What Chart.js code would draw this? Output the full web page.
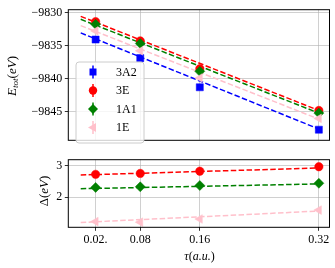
<!DOCTYPE html>
<html><head><meta charset="utf-8">
<script src="https://cdn.jsdelivr.net/npm/chart.js@4/dist/chart.umd.min.js"></script>
<style>
html,body{margin:0;padding:0;background:#fff;}
#wrap{position:relative;width:335px;height:268px;overflow:hidden;background:#fff;}
.box{position:absolute;left:0;width:335px;}
</style></head><body>
<div id="wrap">
<div class="box" style="top:0;height:150px"><canvas id="c1"></canvas></div>
<div class="box" style="top:150px;height:118px"><canvas id="c2"></canvas></div>
</div>
<script>
// ---- data ----
const tau = [0.02, 0.08, 0.16, 0.32];
const tauTickLabels = ['0.02.', '0.08', '0.16', '0.32'];
const stateLabels = ['3A2', '3E', '1A1', '1E'];
const E_3A2 = [-9834.1, -9836.9, -9841.3, -9847.7];
const E_3E  = [-9831.4, -9834.3, -9838.5, -9844.8];
const E_1A1 = [-9831.8, -9834.7, -9838.9, -9845.2];
const E_1E  = [-9832.8, -9835.8, -9839.9, -9846.0];
const fitTau = [0, 0.32];
const fitE_3A2 = [-9833.1, -9847.6];
const fitE_3E  = [-9830.6, -9844.8];
const fitE_1A1 = [-9831.05, -9845.2];
const fitE_1E  = [-9832.0, -9846.1];
const gap_3E  = [2.72, 2.75, 2.82, 2.96];
const gap_1A1 = [2.31, 2.33, 2.37, 2.44];
const gap_1E  = [1.24, 1.22, 1.32, 1.60];
const fitGap_3E  = [2.70, 2.92];
const fitGap_1A1 = [2.27, 2.42];
const fitGap_1E  = [1.21, 1.57];
const yTicksTop = [-9830, -9835, -9840, -9845];
const yTicksBottom = [2, 3];

// ---- style ----
const colors = {'3A2':'#0000ff','3E':'#ff0000','1A1':'#008000','1E':'#ffc0cb'};
const FONT = "'Liberation Serif', 'DejaVu Serif', serif";
const gridColor = 'rgba(176,176,176,0.75)';

function pts(xs, ys){ return xs.map((x,i)=>({x:x, y:ys[i]})); }
function lineDs(label, xs, ys){
  return {label:label+' fit', data:pts(xs,ys), showLine:true, pointRadius:0,
    borderColor:colors[label], borderWidth:1.5, borderDash:[5.5,2.4], fill:false, order:10};
}
const mk = {
  '3A2':{pointStyle:'rect', pointRadius:5, rot:0},
  '3E':{pointStyle:'circle', pointRadius:4.2, rot:0},
  '1A1':{pointStyle:'rectRot', pointRadius:5, rot:0},
  '1E':{pointStyle:'triangle', pointRadius:5, rot:-90}
};
function ptDs(label, xs, ys, order){
  return {label:label, data:pts(xs,ys), showLine:false,
    pointStyle:mk[label].pointStyle, pointRadius:mk[label].pointRadius, pointRotation:mk[label].rot,
    backgroundColor:colors[label], borderColor:colors[label], borderWidth:0.5, order:order};
}

function drawMarker(ctx, label, x, y){
  const c = colors[label];
  ctx.save();
  ctx.fillStyle = c; ctx.strokeStyle = c; ctx.lineWidth = 1.5;
  ctx.beginPath(); ctx.moveTo(x, y-6.5); ctx.lineTo(x, y+6.5); ctx.stroke();
  ctx.beginPath();
  if (label==='3A2'){ ctx.rect(x-3.5,y-3.5,7,7); }
  else if (label==='3E'){ ctx.arc(x,y,4.2,0,Math.PI*2); }
  else if (label==='1A1'){ ctx.moveTo(x,y-5); ctx.lineTo(x+5,y); ctx.lineTo(x,y+5); ctx.lineTo(x-5,y); ctx.closePath(); }
  else { ctx.moveTo(x-5,y); ctx.lineTo(x+3,y-4.5); ctx.lineTo(x+3,y+4.5); ctx.closePath(); }
  ctx.fill();
  ctx.restore();
}

// draws sequence of [text, style, sizeScale, yOffset]
function drawRich(ctx, parts, size){
  let w = 0;
  const m = parts.map(p=>{
    ctx.font = (p[1]||'') + ' ' + (size*(p[2]||1)) + 'px ' + FONT;
    const ww = ctx.measureText(p[0]).width; w += ww; return ww;
  });
  let x = -w/2;
  parts.forEach((p,i)=>{
    ctx.font = (p[1]||'') + ' ' + (size*(p[2]||1)) + 'px ' + FONT;
    ctx.fillText(p[0], x, (p[3]||0));
    x += m[i];
  });
}

const framePlugin = {
  id:'frame',
  afterDatasetsDraw(chart){
    const a = chart.chartArea, ctx = chart.ctx;
    ctx.save();
    ctx.strokeStyle = '#000'; ctx.lineWidth = 1;
    ctx.strokeRect(a.left, a.top, a.right-a.left, a.bottom-a.top);
    ctx.restore();
  }
};

const topDecor = {
  id:'topDecor',
  afterDraw(chart){
    const ctx = chart.ctx;
    // legend
    ctx.save();
    const bx=76, by=62, bw=68, bh=81, r=3;
    ctx.beginPath();
    ctx.moveTo(bx+r,by); ctx.lineTo(bx+bw-r,by); ctx.quadraticCurveTo(bx+bw,by,bx+bw,by+r);
    ctx.lineTo(bx+bw,by+bh-r); ctx.quadraticCurveTo(bx+bw,by+bh,bx+bw-r,by+bh);
    ctx.lineTo(bx+r,by+bh); ctx.quadraticCurveTo(bx,by+bh,bx,by+bh-r);
    ctx.lineTo(bx,by+r); ctx.quadraticCurveTo(bx,by,bx+r,by); ctx.closePath();
    ctx.fillStyle='rgba(255,255,255,0.8)'; ctx.fill();
    ctx.strokeStyle='#cccccc'; ctx.lineWidth=1; ctx.stroke();
    const ys=[72,90.5,109,127.5];
    stateLabels.forEach((s,i)=>{
      drawMarker(ctx, s, 93, ys[i]);
      ctx.fillStyle='#000'; ctx.font='12px '+FONT; ctx.textBaseline='middle'; ctx.textAlign='left';
      ctx.fillText(s, 116, ys[i]+0.5);
    });
    // y title
    ctx.translate(13, 76); ctx.rotate(-Math.PI/2);
    ctx.fillStyle='#000'; ctx.textBaseline='middle'; ctx.textAlign='left';
    drawRich(ctx, [['E','italic'],['tot','italic',0.7,3],['(',''],['eV','italic'],[')','']], 13);
    ctx.restore();
  }
};

const bottomDecor = {
  id:'bottomDecor',
  afterDraw(chart){
    const ctx = chart.ctx;
    ctx.save();
    ctx.fillStyle='#000'; ctx.textBaseline='middle'; ctx.textAlign='left';
    ctx.save();
    ctx.translate(199.5, 107);
    drawRich(ctx, [['\u03C4','italic'],['(',''],['a.u.','italic'],[')','']], 12);
    ctx.restore();
    ctx.translate(45, 41); ctx.rotate(-Math.PI/2);
    drawRich(ctx, [['\u0394',''],['(',''],['eV','italic'],[')','']], 13);
    ctx.restore();
  }
};

function xScale(showLabels){
  return {
    type:'linear', min:-0.0167, max:0.3343,
    afterBuildTicks(s){ s.ticks = tau.map(v=>({value:v})); },
    afterFit(s){ s.height = showLabels ? 40.7 : 0; },
    border:{display:false},
    grid:{color:gridColor, lineWidth:0.8, drawTicks:showLabels, tickLength:3.5, tickColor:'#000', tickWidth:0.8},
    ticks:{display:showLabels, autoSkip:false, maxRotation:0, padding:2, color:'#000',
      font:{family:FONT, size:12},
      callback(v, i){ return tauTickLabels[i]; }}
  };
}
function yScale(min, max, tickVals, fmt){
  return {
    type:'linear', min:min, max:max,
    afterBuildTicks(s){ s.ticks = tickVals.map(v=>({value:v})); },
    afterFit(s){ s.width = 68.3; },
    border:{display:false},
    grid:{color:gridColor, lineWidth:0.8, drawTicks:true, tickLength:3.5, tickColor:'#000', tickWidth:0.8},
    ticks:{padding:2.5, color:'#000', font:{family:FONT, size:12}, callback:fmt}
  };
}
const common = {
  responsive:true, maintainAspectRatio:false, animation:false, events:[],
  plugins:{legend:{display:false}, tooltip:{enabled:false}}
};

new Chart(document.getElementById('c1'), {
  type:'scatter',
  data:{datasets:[
    lineDs('3A2', fitTau, fitE_3A2), lineDs('3E', fitTau, fitE_3E),
    lineDs('1A1', fitTau, fitE_1A1), lineDs('1E', fitTau, fitE_1E),
    ptDs('3A2', tau, E_3A2, 4), ptDs('3E', tau, E_3E, 3),
    ptDs('1A1', tau, E_1A1, 2), ptDs('1E', tau, E_1E, 1)
  ]},
  options:Object.assign({}, common, {
    layout:{padding:{left:0, right:4.3, top:2.5, bottom:1.7}},
    scales:{
      x:xScale(false),
      y:yScale(-9849.3, -9829.6, yTicksTop, v=>String(v).replace('-', '\u2212'))
    }
  }),
  plugins:[framePlugin, topDecor]
});

new Chart(document.getElementById('c2'), {
  type:'scatter',
  data:{datasets:[
    lineDs('3E', fitTau, fitGap_3E), lineDs('1A1', fitTau, fitGap_1A1), lineDs('1E', fitTau, fitGap_1E),
    ptDs('3E', tau, gap_3E, 3), ptDs('1A1', tau, gap_1A1, 2), ptDs('1E', tau, gap_1E, 1)
  ]},
  options:Object.assign({}, common, {
    layout:{padding:{left:0, right:4.3, top:4.5, bottom:0}},
    scales:{
      x:xScale(true),
      y:yScale(1.06, 3.18, yTicksBottom, v=>String(v))
    }
  }),
  plugins:[framePlugin, bottomDecor]
});
</script>
</body></html>
